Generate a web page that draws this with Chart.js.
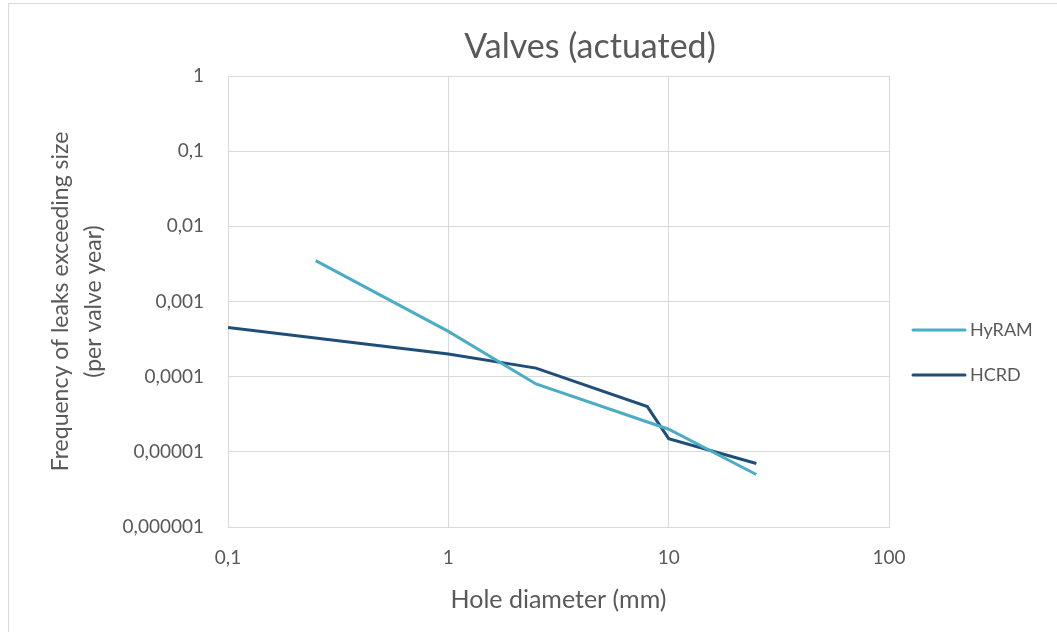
<!DOCTYPE html>
<html>
<head>
<meta charset="utf-8">
<script src="https://cdn.jsdelivr.net/npm/chart.js@4"></script>
<style>
  html, body { margin: 0; padding: 0; background: #fff; }
  #wrap { position: absolute; left: 0; top: 0; width: 1057px; height: 632px; }
  #frame { position: absolute; left: 8px; top: 3px; width: 1060px; height: 640px; border: 1px solid #d9d9d9; box-sizing: border-box; }
</style>
</head>
<body>
<div id="wrap">
  <div id="frame"></div>
  <canvas id="chart" width="1057" height="632"></canvas>
</div>
<script>
// values (log-log)
const hyramX = [0.25, 1, 2.5, 10, 25];
const hyramY = [0.0035, 0.0004, 0.00008, 0.00002, 0.000005];
const hcrdX = [0.1, 1, 2.5, 8, 10, 25];
const hcrdY = [0.00045, 0.0002, 0.00013, 0.00004, 0.000015, 0.000007];
const seriesNames = ['HyRAM', 'HCRD'];
const seriesColors = ['#4bacc6', '#1f4e79'];
const xTicks = [0.1, 1, 10, 100];
const yTicks = [1, 0.1, 0.01, 0.001, 0.0001, 0.00001, 0.000001];

const FONT = 'Lato, "Open Sans", sans-serif';
const grey = '#595959';

function fmt(v) {
  // decimal comma like the original
  let s = v >= 1 ? String(v) : v.toFixed(Math.round(-Math.log10(v)));
  return s.replace('.', ',');
}

const pts = (xs, ys) => xs.map((x, i) => ({ x: x, y: ys[i] }));

// title and legend drawn in fixed spots
const extras = {
  id: 'extras',
  afterDraw(chart) {
    const ctx = chart.ctx;
    ctx.save();
    ctx.fillStyle = grey;
    ctx.textAlign = 'center';
    ctx.textBaseline = 'middle';
    ctx.font = '34px ' + FONT;
    ctx.fillText('Valves (actuated)', 590, 47);

    ctx.font = '18px ' + FONT;
    ctx.textAlign = 'left';
    chart.data.datasets.forEach((ds, i) => {
      const y = 330 + i * 45;
      ctx.strokeStyle = ds.borderColor;
      ctx.lineWidth = 3;
      ctx.lineCap = 'round';
      ctx.beginPath();
      ctx.moveTo(913, y);
      ctx.lineTo(965, y);
      ctx.stroke();
      ctx.fillText(ds.label, 970, y);
    });
    ctx.restore();
  }
};

new Chart(document.getElementById('chart'), {
  type: 'line',
  data: {
    datasets: [
      { label: seriesNames[0], data: pts(hyramX, hyramY), borderColor: seriesColors[0], backgroundColor: seriesColors[0], borderWidth: 3, pointRadius: 0, tension: 0 },
      { label: seriesNames[1], data: pts(hcrdX, hcrdY), borderColor: seriesColors[1], backgroundColor: seriesColors[1], borderWidth: 3, pointRadius: 0, tension: 0 }
    ]
  },
  options: {
    responsive: false,
    animation: false,
    layout: { padding: { left: 0, right: 168, top: 76, bottom: 0 } },
    plugins: { legend: { display: false }, title: { display: false }, tooltip: { enabled: false } },
    scales: {
      x: {
        type: 'logarithmic',
        min: 0.1, max: 100,
        afterBuildTicks: s => { s.ticks = xTicks.map(v => ({ value: v })); },
        afterFit: s => { s.height = 105; },
        grid: { color: '#d9d9d9', lineWidth: 1, drawTicks: false },
        border: { color: '#d9d9d9' },
        ticks: { color: grey, font: { family: FONT, size: 19 }, padding: 19, maxRotation: 0, callback: v => fmt(v) },
        title: { display: true, text: 'Hole diameter (mm)', color: grey, font: { family: FONT, size: 25 }, padding: { top: 0, bottom: 17 } }
      },
      y: {
        type: 'logarithmic',
        min: 0.000001, max: 1,
        afterBuildTicks: s => { s.ticks = yTicks.map(v => ({ value: v })); },
        afterFit: s => { s.width = 228; },
        grid: { color: '#d9d9d9', lineWidth: 1, drawTicks: false },
        border: { color: '#d9d9d9' },
        ticks: { color: grey, font: { family: FONT, size: 19 }, padding: 24, callback: v => fmt(v) },
        title: { display: true, text: ['Frequency of leaks exceeding size', '(per valve year)'], color: grey, font: { family: FONT, size: 23, lineHeight: 1.43 }, padding: { top: 44, bottom: 0 } }
      }
    }
  },
  plugins: [extras]
});
</script>
</body>
</html>
